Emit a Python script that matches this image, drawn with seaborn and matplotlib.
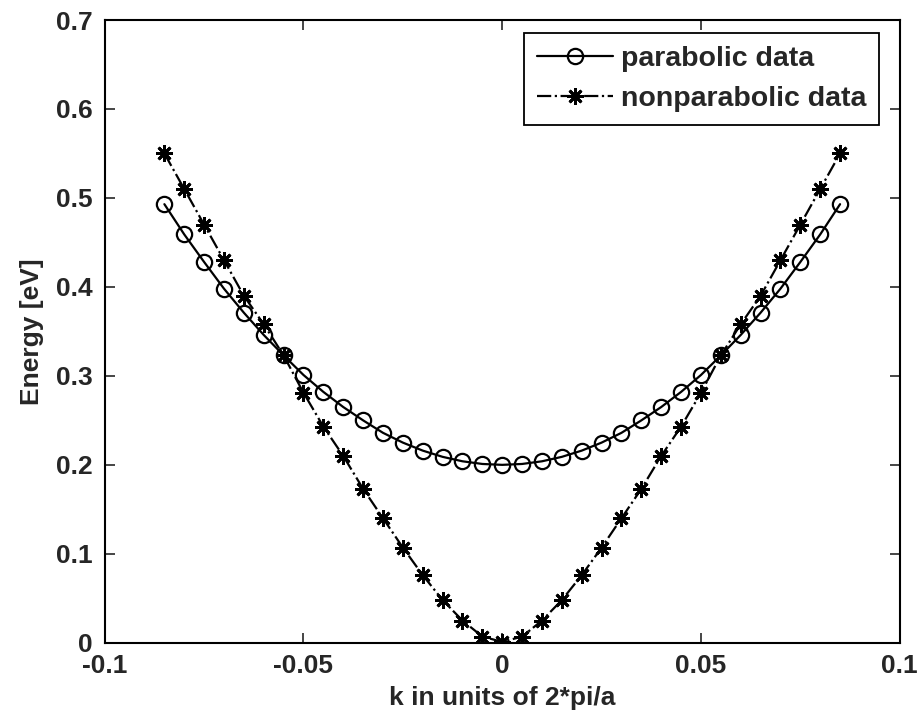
import numpy as np
import pandas as pd
import matplotlib
matplotlib.use("Agg")
import matplotlib.pyplot as plt
import seaborn as sns

# ---- data ----
k_values = [-0.085, -0.080, -0.075, -0.070, -0.065, -0.060, -0.055, -0.050, -0.045,
            -0.040, -0.035, -0.030, -0.025, -0.020, -0.015, -0.010, -0.005, 0.000,
            0.005, 0.010, 0.015, 0.020, 0.025, 0.030, 0.035, 0.040, 0.045,
            0.050, 0.055, 0.060, 0.065, 0.070, 0.075, 0.080, 0.085]

parabolic = [0.493, 0.459, 0.428, 0.398, 0.371, 0.346, 0.323, 0.301, 0.282,
             0.265, 0.250, 0.236, 0.225, 0.216, 0.209, 0.204, 0.201, 0.200,
             0.201, 0.204, 0.209, 0.216, 0.225, 0.236, 0.250, 0.265, 0.282,
             0.301, 0.323, 0.346, 0.371, 0.398, 0.428, 0.459, 0.493]

nonparabolic = [0.550, 0.510, 0.470, 0.430, 0.390, 0.358, 0.323, 0.281, 0.243,
                0.210, 0.173, 0.140, 0.107, 0.076, 0.048, 0.025, 0.007, 0.001,
                0.007, 0.025, 0.048, 0.076, 0.107, 0.140, 0.173, 0.210, 0.243,
                0.281, 0.323, 0.358, 0.390, 0.430, 0.470, 0.510, 0.550]

x_ticks = [-0.1, -0.05, 0, 0.05, 0.1]
x_tick_labels = ["-0.1", "-0.05", "0", "0.05", "0.1"]
y_ticks = [0, 0.1, 0.2, 0.3, 0.4, 0.5, 0.6, 0.7]
y_tick_labels = ["0", "0.1", "0.2", "0.3", "0.4", "0.5", "0.6", "0.7"]

series_labels = ["parabolic data", "nonparabolic data"]
x_label = "k in units of 2*pi/a"
y_label = "Energy [eV]"

df = pd.DataFrame({"k": k_values, "parabolic": parabolic, "nonparabolic": nonparabolic})

sns.set_style("ticks")
plt.rcParams["font.family"] = ["Liberation Sans", "DejaVu Sans"]
plt.rcParams["font.weight"] = "bold"

FS = 19

fig = plt.figure(figsize=(9.19, 7.15), dpi=100)
ax = fig.add_axes([0.114, 0.101, 0.865, 0.871])

sns.lineplot(data=df, x="k", y="parabolic", ax=ax, color="black", linewidth=1.6,
             marker="o", markersize=11, markerfacecolor="none", markeredgecolor="black",
             markeredgewidth=1.6, linestyle="-", label=series_labels[0])
sns.lineplot(data=df, x="k", y="nonparabolic", ax=ax, color="black", linewidth=1.6,
             marker=(8, 2, 0), markersize=12, markeredgecolor="black",
             markeredgewidth=2.0, linestyle="-.", label=series_labels[1])

ax.set_xlim(-0.1, 0.1)
ax.set_ylim(0, 0.7)
ax.set_xticks(x_ticks)
ax.set_xticklabels(x_tick_labels)
ax.set_yticks(y_ticks)
ax.set_yticklabels(y_tick_labels)
ax.tick_params(direction="in", length=7, width=1.2, top=True, right=True,
               labelsize=FS)
ax.tick_params(axis="x", pad=8)
ax.tick_params(axis="y", pad=9)
for lab in ax.get_xticklabels() + ax.get_yticklabels():
    lab.set_fontweight("bold")
for sp in ax.spines.values():
    sp.set_visible(True)
    sp.set_linewidth(1.5)
    sp.set_color("black")

ax.set_xlabel(x_label, fontsize=FS, fontweight="bold", labelpad=6)
ax.set_ylabel(y_label, fontsize=FS, fontweight="bold", labelpad=8)

leg = ax.legend(loc="upper right", bbox_to_anchor=(0.9736, 0.979), borderaxespad=0,
                fontsize=20.5, frameon=True, fancybox=False,
                edgecolor="black", framealpha=1, borderpad=0.45, handlelength=2.7,
                handletextpad=0.25, labelspacing=0.5)
leg.get_frame().set_linewidth(1.3)
for t in leg.get_texts():
    t.set_fontweight("bold")

fig.savefig("out.png", dpi=100)
